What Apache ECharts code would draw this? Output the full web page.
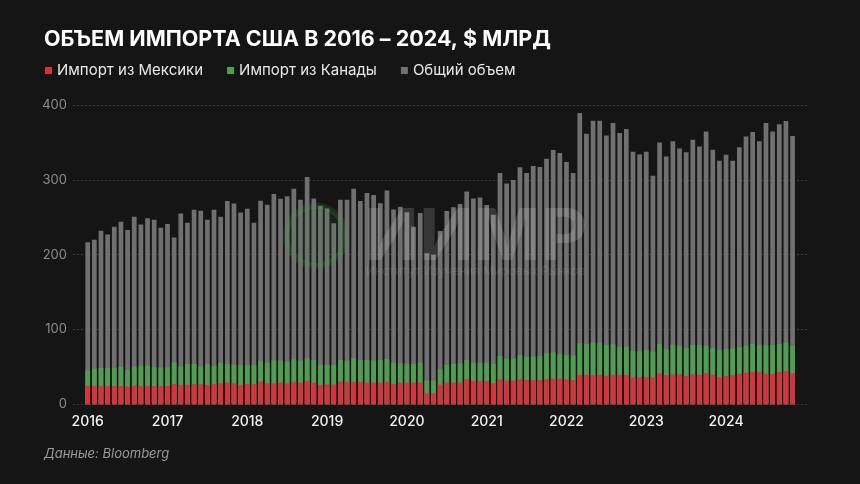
<!DOCTYPE html>
<html><head><meta charset="utf-8">
<script src="https://cdn.jsdelivr.net/npm/echarts@6/dist/echarts.min.js"></script>
<style>html,body{margin:0;padding:0;background:#151515;}#c{width:860px;height:484px;}</style>
</head><body><div id="c"></div>
<script>
const yearLabels = ['2016','2017','2018','2019','2020','2021','2022','2023','2024'];
// monthly, Jan 2016 .. Nov 2024, $ bn
const total = [216.7,219.8,231.9,227,237.2,243.9,232.8,250.6,240.3,248.8,246.6,236,
240.8,223,255.1,242.6,260,258.6,246.5,260,250.6,271.8,268.4,256.4,
261.5,242.5,272,266.7,280.9,274.7,278,288,273.4,303.8,275,265.3,
261.8,242.1,273.4,273.4,288,271.6,282.3,279.6,268.7,285.6,260.5,264,
256.8,237.3,255.5,202,199.8,231.5,258.5,263.5,267.8,284.3,274.9,276.5,
266.5,253.3,309,295,299.7,316.8,309,318.6,317,328,339.8,335.8,
323.7,309,389.3,361.6,379,379,359.4,375.9,362.7,367.9,337.5,333.8,
337.5,305.5,350,331.3,351.4,341.8,336.7,353.4,344.7,364.5,340.2,325.5,
333.5,325.5,343.5,358,363.8,351.4,375.9,364.5,374.3,378.6,358.7];
const mexico = [24.5,24.5,24.5,24.5,24.5,24.5,24,25,24.5,24.5,24.5,24.5,
24.5,27.2,25.9,25.9,27.2,26.8,25.9,27.2,28.1,29,28.1,25.9,
27.2,27.2,30.3,28.1,28.1,29,28.1,29.9,29,31.2,29,25.9,
26.5,26.5,30.3,29.9,29.9,29.9,29,29,29,29.9,27.2,29,
29,29,29,14.7,14.7,26.3,29,29,29.4,33.5,31.2,31.2,
31.2,28.1,33.5,31.7,31.7,33.5,32.6,32.6,32.6,33.5,34.3,34.3,
33.5,32.6,39.3,39.3,39.3,39.3,37.9,39.3,39.3,39.3,36.1,36.1,
36.1,36.1,41.5,38.8,40.1,40.1,37.9,40.1,39.3,41.5,39.3,36.1,
37.9,38.8,40.6,42.4,43.3,43.3,41,40.6,43.3,44.6,41.5];
const canada = [20.6,23.2,24.1,24.1,24.1,25.5,22,25.4,27.2,27.2,25,24.5,
25,28.6,24.5,28.1,26.8,23.6,27.6,24.1,27.2,25,25,26.7,
25,25,28.1,27.7,30.8,29.4,29,30.3,29.4,30.3,30.3,26.7,
26.1,26.1,29,28.5,31.6,29.4,30.3,29.4,30.3,30.3,28.6,25.9,
25,25,26.8,17,17,20.5,23.6,25,25.5,25.8,24.6,24.6,
24.6,25.9,31.2,29.4,29.4,32.5,31.2,31.2,31.9,34.7,34.8,32.7,
32.5,32.5,42.3,41.4,43.2,43.2,41.5,41,37.9,37.9,35.3,35.3,
36.6,34.4,39.2,34.8,39.3,38,37,39.3,40.1,36.6,35.6,36.6,
35.7,36.1,35.7,35.7,37.4,36.1,37.5,38.8,37.4,37.9,36.6];
const seriesNames = ['Импорт из Мексики','Импорт из Канады','Общий объем'];
const colors = ['#d9323d','#4f9e52','#707070'];

const chart = echarts.init(document.getElementById('c'));
const bw = 4.7;
// Canada is drawn stacked on top of Mexico (overlay bars sharing one slot)
const canadaTop = canada.map((v,i)=>[i, +(v + mexico[i]).toFixed(2), v]);
chart.setOption({
  backgroundColor:'#151515',
  animation:false,
  title:{text:'ОБЪЕМ ИМПОРТА США В 2016 – 2024, $ МЛРД', left:39, top:24,
    textStyle:{color:'#ffffff',fontSize:21.5,fontWeight:'bold',fontFamily:'Inter'}},
  legend:{data:seriesNames, left:40, top:58, icon:'rect', itemWidth:7, itemHeight:7, itemGap:24,
    textStyle:{color:'#e8e8e8',fontSize:15,fontFamily:'Inter'}},
  grid:{left:73,right:53,top:105,bottom:79.7,containLabel:false},
  xAxis:{type:'value',min:-2.21,max:108.17,
    axisLine:{show:false},axisTick:{show:false},splitLine:{show:false},
    axisLabel:{customValues:yearLabels.map((y,i)=>i*12),formatter:v=>yearLabels[Math.round(v/12)],
      color:'#f2f2f2',fontSize:14,fontWeight:500,fontFamily:'Inter',margin:10}},
  yAxis:{type:'value',min:0,max:400,interval:100,
    axisLine:{show:false},axisTick:{show:false},
    axisLabel:{color:'#8c8c8c',fontSize:13,fontFamily:'Inter',margin:6},
    splitLine:{lineStyle:{color:'#3a3a3a',type:[2,2],width:1}}},
  graphic:[
    {type:'text',left:44,top:448,style:{text:'Данные: Bloomberg',fill:'#9a9a9a',fontSize:13,fontStyle:'italic',fontFamily:'Inter'}},
    {type:'circle',shape:{cx:316,cy:236,r:30},z:10,style:{fill:'rgba(70,160,70,0.10)',stroke:'rgba(70,160,70,0.18)',lineWidth:6}},
    {type:'text',left:364,top:202,z:10,style:{text:'ИИМР',fill:'rgba(255,255,255,0.14)',fontSize:72,fontWeight:'bold',fontFamily:'Inter'}},
    {type:'text',left:366,top:265,z:10,style:{text:'Институт Изучения Мировых Рынков',fill:'rgba(255,255,255,0.10)',fontSize:12,fontFamily:'Inter'}}
  ],
  series:[
    {name:seriesNames[2],type:'bar',data:total.map((v,i)=>[i,v]),barWidth:bw,barGap:'-100%',itemStyle:{color:colors[2]},z:2},
    {name:seriesNames[1],type:'bar',data:canadaTop,encode:{x:0,y:1},barWidth:bw,barGap:'-100%',itemStyle:{color:colors[1]},z:3},
    {name:seriesNames[0],type:'bar',data:mexico.map((v,i)=>[i,v]),barWidth:bw,barGap:'-100%',itemStyle:{color:colors[0]},z:4}
  ]
});
</script></body></html>
